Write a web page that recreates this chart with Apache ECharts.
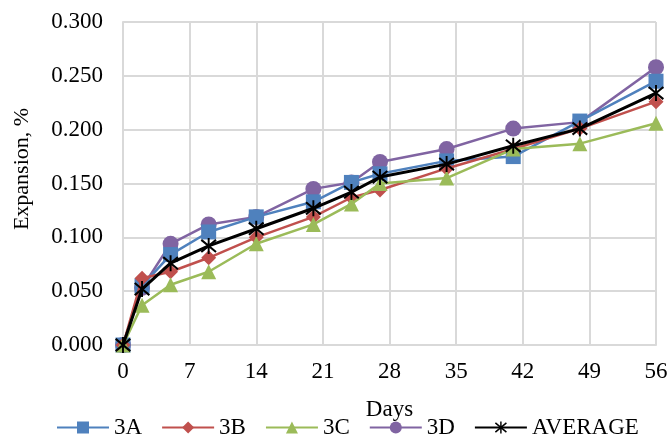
<!DOCTYPE html>
<html>
<head>
<meta charset="utf-8">
<script src="https://cdn.jsdelivr.net/npm/echarts@6/dist/echarts.min.js"></script>
<style>html,body{margin:0;padding:0;background:#fff}#c{width:672px;height:445px}</style>
</head>
<body>
<div id="c"></div>
<script>
var days = [0, 2, 5, 9, 14, 20, 24, 27, 34, 41, 48, 56];
var s3A = [0, 0.055, 0.084, 0.105, 0.119, 0.133, 0.151, 0.159, 0.171, 0.175, 0.208, 0.245];
var s3B = [0, 0.062, 0.068, 0.081, 0.100, 0.119, 0.137, 0.144, 0.164, 0.182, 0.201, 0.226];
var s3C = [0, 0.037, 0.056, 0.068, 0.094, 0.112, 0.131, 0.150, 0.155, 0.182, 0.187, 0.206];
var s3D = [0, 0.053, 0.094, 0.112, 0.119, 0.145, 0.151, 0.170, 0.182, 0.201, 0.207, 0.258];
var sAvg = [0, 0.052, 0.076, 0.092, 0.108, 0.127, 0.142, 0.156, 0.168, 0.185, 0.201, 0.234];
var seriesNames = ['3A', '3B', '3C', '3D', 'AVERAGE'];
var xTitle = 'Days';
var yTitle = 'Expansion, %';

var FONT = '"Liberation Serif","Times New Roman",serif';
var star = 'path://M4.4 0 L5.6 0 L5.6 10 L4.4 10 Z M0 1.7 L0.8 0.7 L10 8.3 L9.2 9.3 Z M0 8.3 L9.2 0.7 L10 1.7 L0.8 9.3 Z';

function pairs(v) { return days.map(function (d, i) { return [d, v[i]]; }); }
function mk(name, data, color, symbol, size, z) {
  return {
    name: name, type: 'line', data: pairs(data), z: z,
    symbol: symbol, symbolSize: size, showAllSymbol: true,
    lineStyle: { color: color, width: 2.5 },
    itemStyle: { color: color, borderWidth: 0 },
    emphasis: { disabled: true }
  };
}
var chart = echarts.init(document.getElementById('c'), null, { renderer: 'canvas' });
chart.setOption({
  animation: false,
  textStyle: { fontFamily: FONT },
  grid: { left: 123, right: 16, top: 22, bottom: 100 },
  graphic: [{
    type: 'text', x: 22, y: 169, rotation: Math.PI / 2,
    style: { text: yTitle, fontFamily: FONT, fontSize: 22, fill: '#000',
      align: 'center', verticalAlign: 'middle' }
  }],
  xAxis: {
    type: 'value', min: 0, max: 56, interval: 7,
    name: xTitle, nameLocation: 'middle', nameGap: 53,
    nameTextStyle: { fontFamily: FONT, fontSize: 23, color: '#000' },
    axisLine: { lineStyle: { color: '#D9D9D9', width: 2 } },
    axisTick: { show: false },
    axisLabel: { fontFamily: FONT, fontSize: 23, color: '#000', margin: 15 },
    splitLine: { show: true, lineStyle: { color: '#D9D9D9', width: 2 } }
  },
  yAxis: {
    type: 'value', min: 0, max: 0.3, interval: 0.05,
    axisLine: { show: true, lineStyle: { color: '#D9D9D9', width: 2 } },
    axisTick: { show: false },
    axisLabel: { fontFamily: FONT, fontSize: 23, color: '#000', margin: 20,
      formatter: function (v) { return v.toFixed(3); } },
    splitLine: { show: true, lineStyle: { color: '#D9D9D9', width: 2 } }
  },
  legend: {
    bottom: 1, left: 51, itemGap: 19, itemWidth: 52, itemHeight: 15,
    textStyle: { fontFamily: FONT, fontSize: 23, color: '#000' },
    data: seriesNames
  },
  series: [
    mk('3A', s3A, '#4F81BD', 'rect', 15, 2),
    mk('3B', s3B, '#C0504D', 'diamond', 15, 3),
    mk('3C', s3C, '#9BBB59', 'triangle', 15, 4),
    mk('3D', s3D, '#8064A2', 'circle', 16, 1),
    (function () {
      var s = mk('AVERAGE', sAvg, '#000000', star, 16, 5);
      s.lineStyle.width = 3;
      return s;
    })()
  ]
});
</script>
</body>
</html>
